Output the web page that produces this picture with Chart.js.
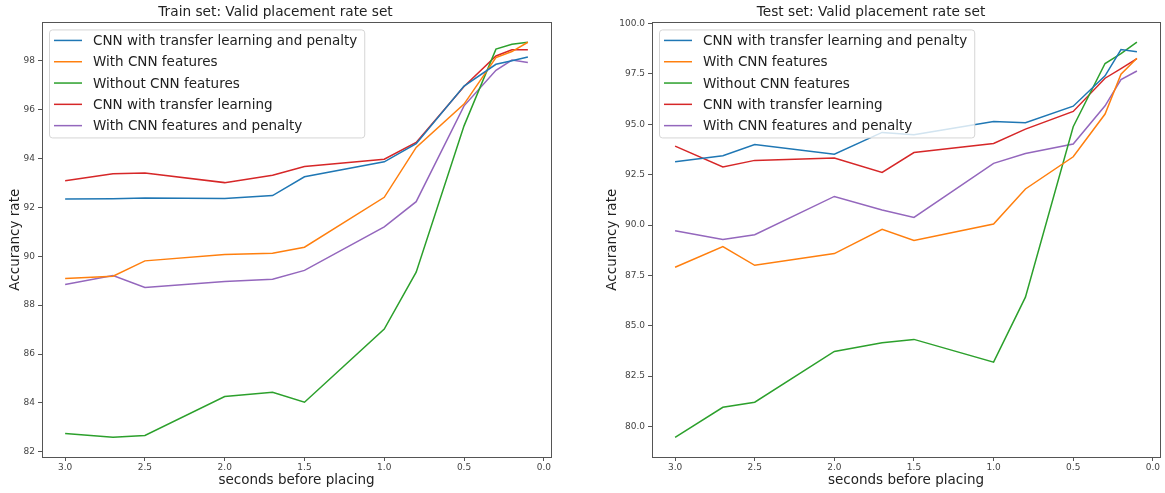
<!DOCTYPE html>
<html>
<head>
<meta charset="utf-8">
<script src="https://cdn.jsdelivr.net/npm/chart.js@4/dist/chart.umd.min.js"></script>
<style>
  html, body { margin: 0; padding: 0; background: #fff; }
  #wrap { position: relative; width: 1165px; height: 493px; }
  .box { position: absolute; top: 0; height: 493px; }
</style>
</head>
<body>
<div id="wrap">
  <div class="box" style="left:0;width:582px"><canvas id="trainChart" width="582" height="493"></canvas></div>
  <div class="box" style="left:582px;width:583px"><canvas id="testChart" width="583" height="493"></canvas></div>
</div>
<script>
// x values (seconds before placing)
const seconds = [3.0, 2.7, 2.5, 2.0, 1.7, 1.5, 1.0, 0.8, 0.5, 0.3, 0.2, 0.1];
const xTicks = [3.0, 2.5, 2.0, 1.5, 1.0, 0.5, 0.0];

const seriesNames = [
    'CNN with transfer learning and penalty',
    'With CNN features',
    'Without CNN features',
    'CNN with transfer learning',
    'With CNN features and penalty'
];
const seriesColors = ['#1f77b4', '#ff7f0e', '#2ca02c', '#d62728', '#9467bd'];

// --- Train set ---
const trainTlPenalty   = [92.34, 92.35, 92.38, 92.36, 92.48, 93.25, 93.86, 94.60, 96.96, 97.85, 97.99, 98.15];
const trainCnnFeat     = [89.09, 89.18, 89.81, 90.07, 90.12, 90.37, 92.41, 94.45, 96.22, 98.12, 98.37, 98.75];
const trainNoCnn       = [82.75, 82.60, 82.67, 84.26, 84.44, 84.03, 87.02, 89.35, 95.33, 98.47, 98.67, 98.75];
const trainTl          = [93.09, 93.37, 93.40, 93.01, 93.31, 93.67, 93.97, 94.65, 96.94, 98.19, 98.44, 98.44];
const trainFeatPenalty = [88.84, 89.21, 88.72, 88.97, 89.06, 89.42, 91.20, 92.23, 96.15, 97.60, 98.02, 97.92];
const trainYTicks = [82, 84, 86, 88, 90, 92, 94, 96, 98];

// --- Test set ---
const testTlPenalty   = [93.14, 93.44, 94.00, 93.52, 94.60, 94.48, 95.14, 95.08, 95.90, 97.41, 98.71, 98.60];
const testCnnFeat     = [87.90, 88.93, 88.00, 88.58, 89.79, 89.23, 90.05, 91.79, 93.39, 95.51, 97.49, 98.28];
const testNoCnn       = [79.46, 80.95, 81.20, 83.72, 84.15, 84.32, 83.19, 86.42, 94.88, 98.02, 98.51, 99.08];
const testTl          = [93.92, 92.88, 93.21, 93.33, 92.61, 93.60, 94.05, 94.76, 95.64, 97.29, 97.77, 98.26];
const testFeatPenalty = [89.71, 89.28, 89.52, 91.42, 90.75, 90.38, 93.06, 93.55, 94.02, 95.92, 97.22, 97.65];
const testYTicks = [80.0, 82.5, 85.0, 87.5, 90.0, 92.5, 95.0, 97.5, 100.0];

const FONT = '"DejaVu Sans", sans-serif';
Chart.defaults.font.family = FONT;

// draws the axes frame and a matplotlib-style legend inside the plot
const frameLegend = {
    id: 'frameLegend',
    afterDatasetsDraw(chart) {
        const ctx = chart.ctx;
        const a = chart.chartArea;
        ctx.save();
        ctx.strokeStyle = '#555';
        ctx.lineWidth = 1;
        ctx.strokeRect(Math.round(a.left) + 0.5, Math.round(a.top) + 0.5,
                       Math.round(a.right - a.left), Math.round(a.bottom - a.top));

        ctx.font = '13.5px ' + FONT;
        const labels = chart.data.datasets.map(d => d.label);
        const maxW = Math.max(...labels.map(l => ctx.measureText(l).width));
        const x0 = a.left + 7, y0 = a.top + 7;
        const w = 44 + maxW + 7, h = 108;
        ctx.beginPath();
        ctx.roundRect(x0 + 0.5, y0 + 0.5, w, h, 3);
        ctx.fillStyle = 'rgba(255,255,255,0.8)';
        ctx.fill();
        ctx.strokeStyle = '#d5d5d5';
        ctx.stroke();

        chart.data.datasets.forEach((d, i) => {
            const cy = y0 + 11 + i * 21.3;
            ctx.strokeStyle = d.borderColor;
            ctx.lineWidth = 1.5;
            ctx.beginPath();
            ctx.moveTo(x0 + 5, cy);
            ctx.lineTo(x0 + 33, cy);
            ctx.stroke();
            ctx.fillStyle = '#222';
            ctx.textBaseline = 'middle';
            ctx.fillText(d.label, x0 + 44, cy + 1);
        });
        ctx.restore();
    }
};

function makeChart(id, title, series, yTicks, yMin, yMax, yWidth, yTitlePad, padRight, fmt) {
    const datasets = series.map((vals, i) => ({
        label: seriesNames[i],
        data: vals.map((v, j) => ({ x: seconds[j], y: v })),
        borderColor: seriesColors[i],
        backgroundColor: seriesColors[i],
        borderWidth: 1.5,
        pointRadius: 0,
        tension: 0,
        fill: false
    }));

    return new Chart(document.getElementById(id), {
        type: 'line',
        data: { datasets },
        plugins: [frameLegend],
        options: {
            responsive: false,
            animation: false,
            layout: { padding: { left: 0, right: padRight, top: 0, bottom: 0 } },
            plugins: {
                legend: { display: false },
                tooltip: { enabled: false },
                title: {
                    display: true, text: title, color: '#222',
                    font: { size: 13.7, weight: 'normal' },
                    padding: { top: 4, bottom: 2 }
                }
            },
            scales: {
                x: {
                    type: 'linear', reverse: true, min: -0.045, max: 3.145,
                    afterBuildTicks: s => { s.ticks = xTicks.map(v => ({ value: v })); },
                    afterFit: s => { s.height = 36; },
                    ticks: { font: { size: 9 }, color: '#444', padding: 1, maxRotation: 0,
                             callback: v => v.toFixed(1) },
                    grid: { drawOnChartArea: false, tickLength: 4, color: '#555' },
                    border: { color: '#555' },
                    title: { display: true, text: 'seconds before placing', color: '#222',
                             font: { size: 13.5 }, padding: { top: 0, bottom: 4 } }
                },
                y: {
                    min: yMin, max: yMax,
                    afterBuildTicks: s => { s.ticks = yTicks.map(v => ({ value: v })); },
                    afterFit: s => { s.width = yWidth; },
                    ticks: { font: { size: 9 }, color: '#444', padding: 3, callback: fmt },
                    grid: { drawOnChartArea: false, tickLength: 4, color: '#555' },
                    border: { color: '#555' },
                    title: { display: true, text: 'Accurancy rate', color: '#222',
                             font: { size: 13.5 }, padding: { top: yTitlePad, bottom: 0 } }
                }
            }
        }
    });
}

makeChart('trainChart', 'Train set: Valid placement rate set',
    [trainTlPenalty, trainCnnFeat, trainNoCnn, trainTl, trainFeatPenalty],
    trainYTicks, 81.79, 99.56, 42, 7, 31, v => String(v));

makeChart('testChart', 'Test set: Valid placement rate set',
    [testTlPenalty, testCnnFeat, testNoCnn, testTl, testFeatPenalty],
    testYTicks, 78.48, 100.06, 70, 22, 5, v => v.toFixed(1));
</script>
</body>
</html>
